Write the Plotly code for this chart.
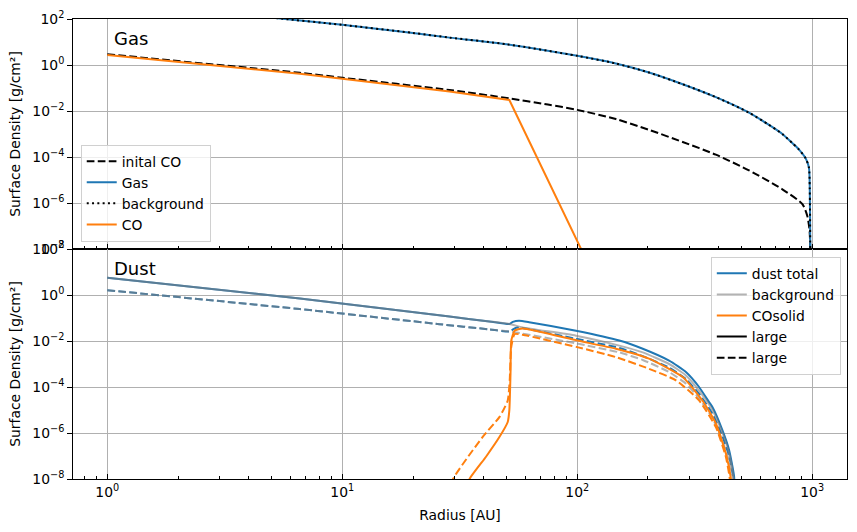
import plotly.graph_objects as go

# ---------------- data ----------------
# Gas panel
r_gas = [1, 2, 4.9, 10, 20, 28.6, 50, 100, 146, 202, 281, 389, 538, 650, 746, 830, 879, 938,
         968, 976, 981, 983]
sigma_gas = [600, 295, 117, 55.6, 24.8, 15.5, 8.0, 2.5, 1.16, 0.47, 0.146, 0.040, 8.5e-3, 2.6e-3,
             1.0e-3, 3.7e-4, 2.1e-4, 8.7e-5, 3.5e-5, 4.5e-6, 1e-8, 1e-9]
r_gas_bg = r_gas
sigma_gas_bg = sigma_gas

r_co_init = [1, 2, 6.6, 10, 28.6, 51.4, 75, 100, 146, 202, 281, 389, 538, 746, 908, 953, 973,
             982, 984]
sigma_co_init = [2.95, 1.48, 0.457, 0.28, 0.0818, 0.0355, 0.0191, 0.0112, 4.46e-3, 1.52e-3,
                 4.51e-4, 1.26e-4, 2.63e-5, 3.95e-6, 8.9e-7, 2.7e-7, 7.3e-8, 1e-8, 1e-9]

r_co = [1, 2, 6.6, 10, 28.6, 51.4, 104, 112]
sigma_co = [2.7, 1.36, 0.42, 0.255, 0.070, 0.030, 1e-8, 2e-9]

# Dust panel
r_dust_tot = [1, 6.6, 28.6, 42.3, 51.4, 53.2, 56.5, 62.4, 98.8, 151, 190, 246, 290, 330,
              364, 376, 415, 443, 465, 468]
sigma_dust_tot = [5.6, 0.71, 0.115, 0.071, 0.055, 0.068, 0.076, 0.066, 0.028, 0.0105, 4.6e-3,
                  1.4e-3, 4.5e-4, 1e-4, 2.2e-5, 1.35e-5, 1.3e-6, 1.8e-7, 1.3e-8, 1e-9]

r_dust_tot_d = [1, 6.6, 25.9, 42.3, 51.4, 55, 60, 98.8, 151, 190, 246, 290, 330, 376, 415,
                443, 462, 466]
sigma_dust_tot_d = [1.62, 0.245, 0.054, 0.032, 0.026, 0.038, 0.035, 0.0125, 5e-3, 2.2e-3,
                    7e-4, 2.2e-4, 5e-5, 7e-6, 7e-7, 1e-7, 1e-8, 1e-9]

r_bg = [1, 6.6, 28.6, 42.3, 51.4, 58.6, 98.8, 151, 190, 246, 290, 330, 376, 415, 443, 463, 466]
sigma_bg = [5.6, 0.71, 0.115, 0.071, 0.055, 0.039, 0.017, 6.3e-3, 3.2e-3, 1.0e-3, 3.2e-4,
            7e-5, 1e-5, 1e-6, 1.3e-7, 1e-8, 1e-9]

r_bg_d = [1, 6.6, 25.9, 42.3, 51.4, 58.6, 98.8, 151, 190, 246, 290, 330, 376, 415, 443, 460, 463]
sigma_bg_d = [1.62, 0.245, 0.054, 0.032, 0.026, 0.021, 7.9e-3, 3.2e-3, 1.5e-3, 4.5e-4,
              1.4e-4, 3.2e-5, 4.5e-6, 4.5e-7, 6e-8, 1e-8, 1e-9]

r_cos = [33.5, 34.8, 40.9, 46.7, 50.6, 51.4, 52.0, 52.4, 54.1, 58.6, 100, 146, 202, 281, 341,
         389, 429, 451, 455]
sigma_cos = [2e-9, 1e-8, 9.3e-8, 6.8e-7, 3.0e-6, 9.8e-6, 3.8e-4, 0.0105, 0.028, 0.035, 0.0105,
             4.6e-3, 1.7e-3, 2.7e-4, 2.6e-5, 2.6e-6, 1.3e-7, 1e-8, 1e-9]

r_cos_d = [28.5, 29.6, 39.6, 46.7, 50.6, 51.6, 52.3, 54.1, 58.6, 100, 146, 202, 263, 330, 389,
           429, 446, 450]
sigma_cos_d = [2e-9, 1e-8, 6.8e-7, 5.0e-6, 2.6e-5, 2e-4, 5e-3, 0.020, 0.0186, 5.4e-3, 2.0e-3,
               6.2e-4, 1.95e-4, 2.6e-5, 1.8e-6, 9.3e-8, 1e-8, 1e-9]

y_tickvals = [1e2, 1e0, 1e-2, 1e-4, 1e-6, 1e-8]
y_ticktext = ["10<sup>2</sup>", "10<sup>0</sup>", "10<sup>\u22122</sup>", "10<sup>\u22124</sup>",
              "10<sup>\u22126</sup>", "10<sup>\u22128</sup>"]
x_tickvals = [1, 10, 100, 1000]
x_ticktext = ["10<sup>0</sup>", "10<sup>1</sup>", "10<sup>2</sup>", "10<sup>3</sup>"]

# ---------------- styling ----------------
BLUE = "#1f77b4"
ORANGE = "#ff7f0e"
GREY = "rgba(128,128,128,0.6)"
LW = 2
DASH = "7.7px,3.3px"
DOT = "2px,3.3px"
FONT = "DejaVu Sans"
FS = 13.9

fig = go.Figure()

def add(x, y, color, dash, name, axis, legend, show=True, group=None, shape="spline",
        smooth=0.7):
    line = dict(color=color, width=LW, dash=dash, shape=shape)
    if shape == "spline":
        line["smoothing"] = smooth
    fig.add_trace(go.Scatter(
        x=x, y=y, mode="lines", name=name, line=line,
        xaxis=axis[0], yaxis=axis[1], legend=legend,
        showlegend=show, legendgroup=group or name,
    ))

TOP = ("x", "y")
BOT = ("x2", "y2")

# top panel
add(r_co_init, sigma_co_init, "black", DASH, "inital CO", TOP, "legend")
add(r_gas, sigma_gas, BLUE, "solid", "Gas", TOP, "legend")
add(r_gas_bg, sigma_gas_bg, "black", DOT, "background", TOP, "legend")
add(r_co, sigma_co, ORANGE, "solid", "CO", TOP, "legend", shape="linear")

# bottom panel
S = 0.5
add(r_dust_tot, sigma_dust_tot, BLUE, "solid", "dust total", BOT, "legend2", group="g1", smooth=S)
add(r_dust_tot_d, sigma_dust_tot_d, BLUE, DASH, "dust total", BOT, "legend2", show=False,
    group="g1", smooth=S)
add(r_bg, sigma_bg, GREY, "solid", "background", BOT, "legend2", group="g2", smooth=S)
add(r_bg_d, sigma_bg_d, GREY, DASH, "background", BOT, "legend2", show=False, group="g2",
    smooth=S)
add(r_cos, sigma_cos, ORANGE, "solid", "COsolid", BOT, "legend2", group="g3", smooth=S)
add(r_cos_d, sigma_cos_d, ORANGE, DASH, "COsolid", BOT, "legend2", show=False, group="g3",
    smooth=S)
# legend-only entries for line styles
add([None], [None], "black", "solid", "large", BOT, "legend2", group="g4", shape="linear")
add([None], [None], "black", DASH, "large", BOT, "legend2", group="g5", shape="linear")

minor_x = [m * 10 ** e for e in range(-1, 4) for m in range(2, 10)]

xcommon = dict(
    type="log", range=[-0.146, 3.148], showline=True, mirror=True, linecolor="black",
    linewidth=1, ticks="inside", ticklen=4.9, tickcolor="black", tickwidth=1,
    tickvals=x_tickvals, ticktext=x_ticktext, showgrid=True, gridcolor="#b0b0b0",
    gridwidth=0.8, zeroline=False,
    minor=dict(tickmode="array", tickvals=minor_x, ticks="inside", ticklen=2.8,
               tickcolor="black", tickwidth=0.8, showgrid=False),
    tickfont=dict(family=FONT, size=FS, color="black"),
)
ycommon = dict(
    type="log", range=[-8, 2], showline=True, mirror=True, linecolor="black", linewidth=1,
    ticks="outside", ticklen=4.9, tickcolor="black", tickwidth=1,
    tickvals=y_tickvals, ticktext=y_ticktext, showgrid=True, gridcolor="#b0b0b0",
    gridwidth=0.8, zeroline=False,
    tickfont=dict(family=FONT, size=FS, color="black"),
    title=dict(text="Surface Density [g/cm\u00b2]", font=dict(family=FONT, size=FS, color="black"),
               standoff=8),
)

legend_common = dict(
    bgcolor="rgba(255,255,255,0.8)", bordercolor="#d0d0d0", borderwidth=1,
    font=dict(family=FONT, size=FS, color="black"), tracegroupgap=0,
    itemclick=False, itemdoubleclick=False,
)

fig.update_layout(
    width=857, height=532,
    margin=dict(l=73, r=9, t=17, b=53),
    paper_bgcolor="white", plot_bgcolor="white",
    font=dict(family=FONT, size=FS, color="black"),
    xaxis=dict(xcommon, domain=[0, 1], anchor="y", showticklabels=False, matches="x2"),
    yaxis=dict(ycommon, domain=[0.5, 1], anchor="x"),
    xaxis2=dict(xcommon, domain=[0, 1], anchor="y2",
                title=dict(text="Radius [AU]", font=dict(family=FONT, size=FS, color="black"),
                           standoff=11)),
    yaxis2=dict(ycommon, domain=[0, 0.5], anchor="x2"),
    legend=dict(legend_common, x=0.01, y=0.516, xanchor="left", yanchor="bottom"),
    legend2=dict(legend_common, x=0.992, y=0.483, xanchor="right", yanchor="top"),
    annotations=[
        dict(text="Gas", xref="paper", yref="paper", x=0.0503, y=0.958, xanchor="left",
             yanchor="middle", showarrow=False, font=dict(family=FONT, size=18, color="black")),
        dict(text="Dust", xref="paper", yref="paper", x=0.0503, y=0.4567, xanchor="left",
             yanchor="middle", showarrow=False, font=dict(family=FONT, size=18, color="black")),
    ],
)

fig.write_html("out.html")
